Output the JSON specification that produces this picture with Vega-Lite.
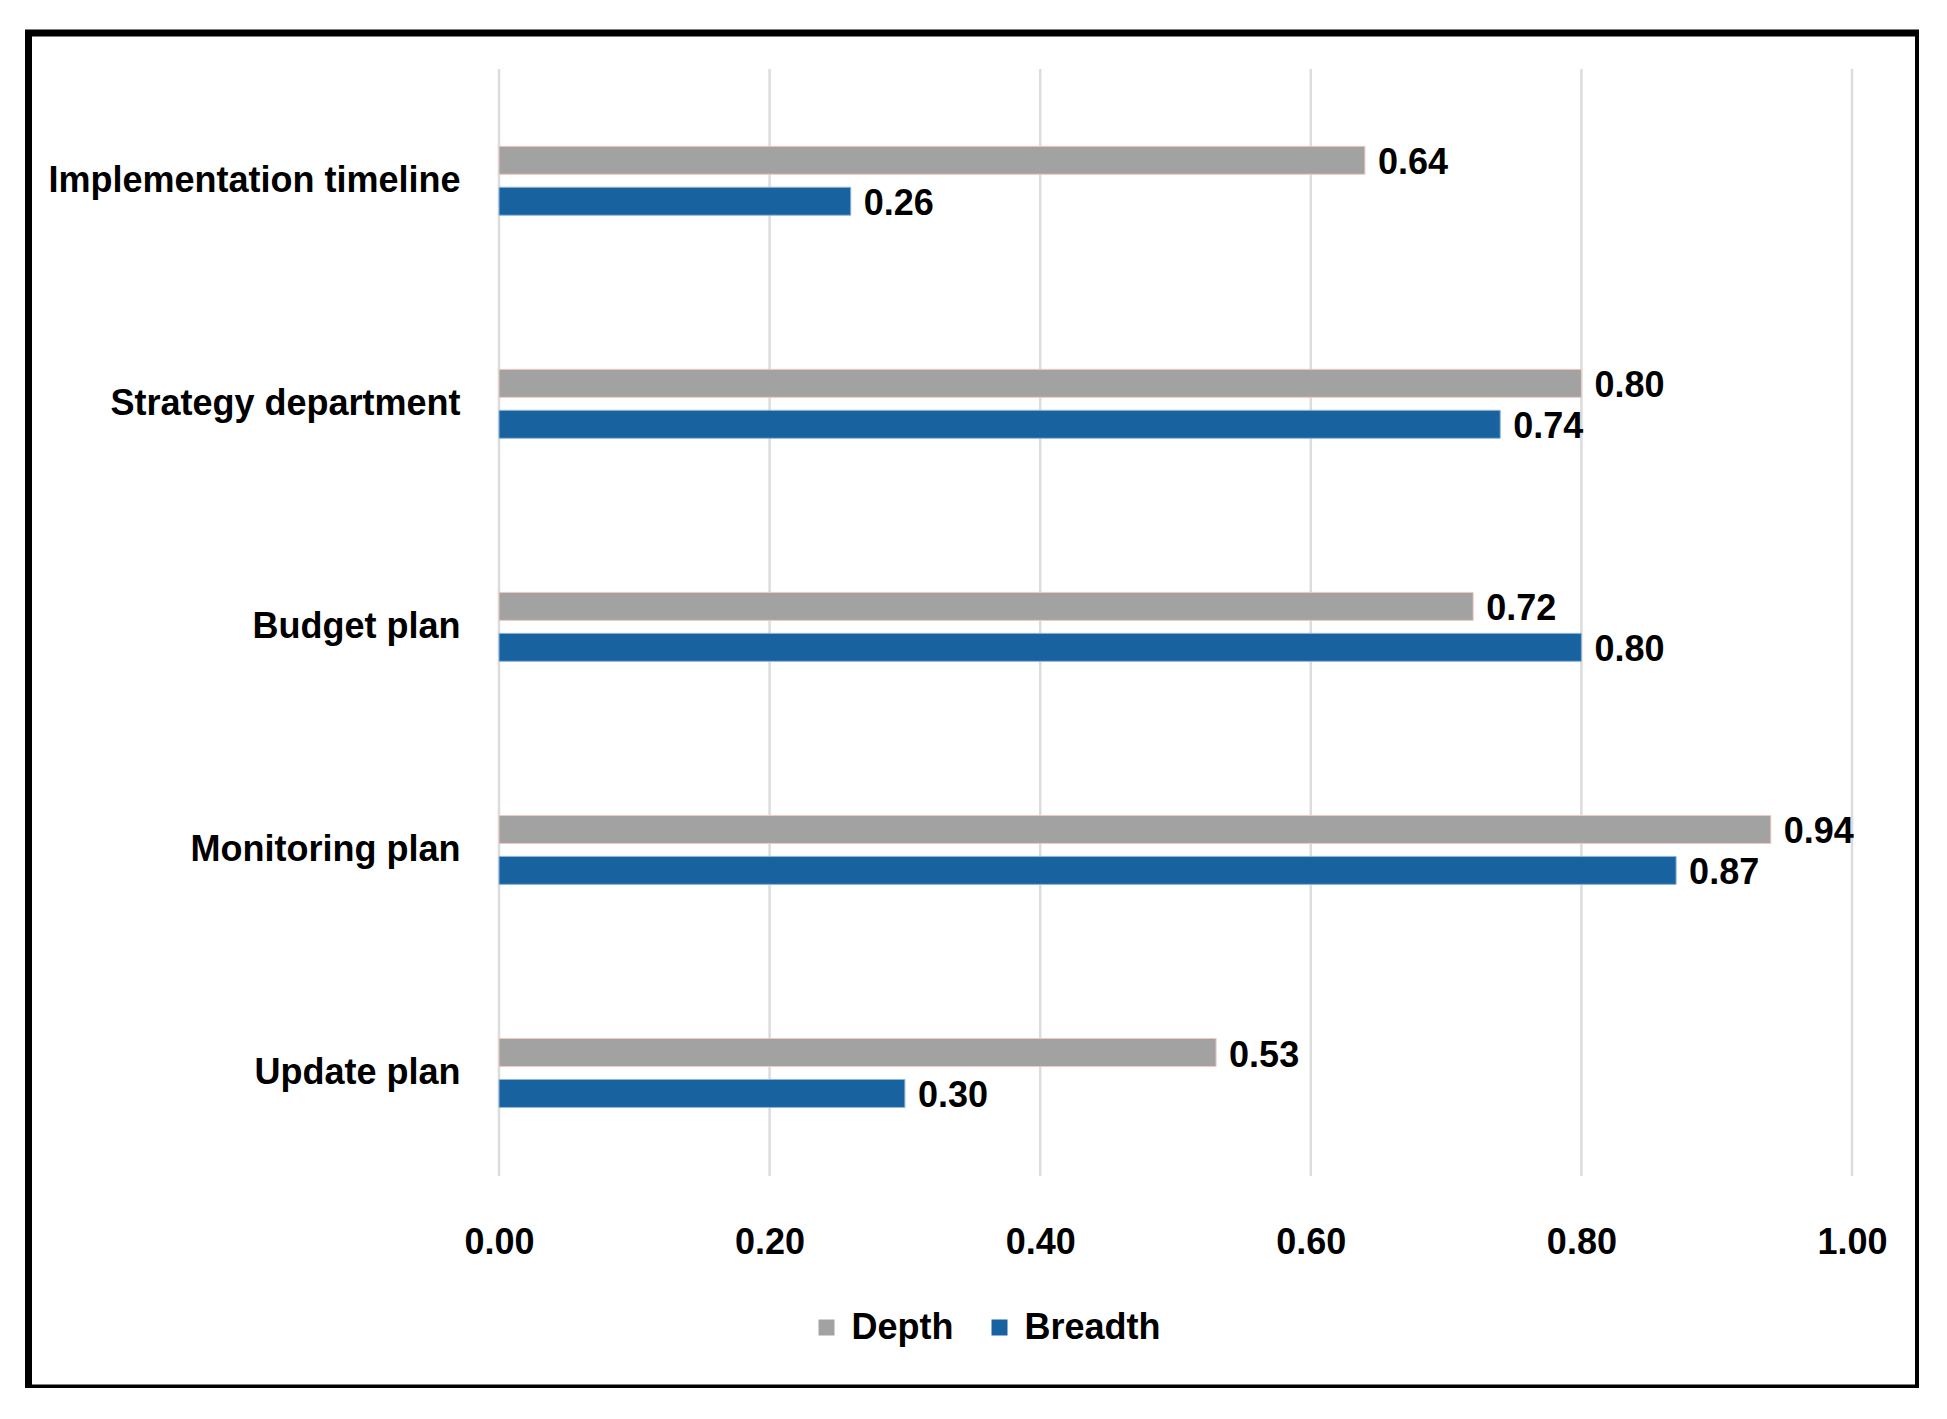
{
  "$schema": "https://vega.github.io/schema/vega-lite/v6.json",
  "width": 1890,
  "height": 1355,
  "autosize": {"type": "none"},
  "padding": {"left": 28.5, "top": 33, "right": 0, "bottom": 0},
  "background": "white",
  "config": {
    "view": {"stroke": "black", "strokeWidth": 7},
    "axis": {"labelFont": "Liberation Sans, Arial, sans-serif", "labelFontWeight": "bold", "labelColor": "black"},
    "legend": {"labelFont": "Liberation Sans, Arial, sans-serif", "labelFontWeight": "bold", "labelColor": "black"}
  },
  "data": {
    "values": [
      {"category": "Implementation timeline", "series": "Depth", "value": 0.64},
      {"category": "Implementation timeline", "series": "Breadth", "value": 0.26},
      {"category": "Strategy department", "series": "Depth", "value": 0.80},
      {"category": "Strategy department", "series": "Breadth", "value": 0.74},
      {"category": "Budget plan", "series": "Depth", "value": 0.72},
      {"category": "Budget plan", "series": "Breadth", "value": 0.80},
      {"category": "Monitoring plan", "series": "Depth", "value": 0.94},
      {"category": "Monitoring plan", "series": "Breadth", "value": 0.87},
      {"category": "Update plan", "series": "Depth", "value": 0.53},
      {"category": "Update plan", "series": "Breadth", "value": 0.30}
    ]
  },
  "layer": [
    {
      "data": {"values": [{"v": 0}, {"v": 0.2}, {"v": 0.4}, {"v": 0.6}, {"v": 0.8}, {"v": 1.0}]},
      "mark": {"type": "rule", "color": "#dcdcdc", "strokeWidth": 2.5},
      "encoding": {
        "x": {"field": "v", "type": "quantitative"},
        "y": {"datum": "Implementation timeline", "bandPosition": -1.123},
        "y2": {"datum": "Update plan", "bandPosition": 1.993}
      }
    },
    {
      "mark": {"type": "bar"},
      "encoding": {
        "x": {
          "field": "value", "type": "quantitative",
          "scale": {"domain": [0, 1], "range": [470.5, 1823.5], "nice": false, "zero": true},
          "axis": {"values": [0, 0.2, 0.4, 0.6, 0.8, 1.0], "format": ".2f", "grid": false, "domain": false, "ticks": false, "labelPadding": 0, "labelBaseline": "middle", "labelFontSize": 36, "offset": -146, "title": null, "labelFlush": false}
        },
        "y": {
          "field": "category", "type": "nominal",
          "scale": {"domain": ["Implementation timeline", "Strategy department", "Budget plan", "Monitoring plan", "Update plan"], "range": [36, 1143], "paddingInner": 0.691, "paddingOuter": 0.327, "align": 0.53},
          "axis": {"domain": false, "ticks": false, "grid": false, "labelPadding": 0, "labelFontSize": 36, "labelLimit": 1000, "offset": -431.5, "title": null, "labelAlign": "right"}
        },
        "yOffset": {
          "field": "series", "type": "nominal",
          "scale": {"domain": ["Depth", "Breadth"], "paddingInner": 0.317, "paddingOuter": 0}
        },
        "color": {
          "field": "series", "type": "nominal",
          "scale": {"domain": ["Depth", "Breadth"], "range": ["#a2a2a2", "#1862a0"]},
          "legend": {"orient": "none", "legendX": 780, "legendY": 1276.5, "direction": "horizontal", "title": null, "symbolType": "square", "symbolSize": 256, "symbolStrokeWidth": 0, "labelFontSize": 36, "labelOffset": 7, "columnPadding": 28, "labelLimit": 500}
        },
        "stroke": {
          "field": "series", "type": "nominal",
          "scale": {"domain": ["Depth", "Breadth"], "range": ["#f0c8c2", "#8fb6da"]},
          "legend": null
        }
      }
    },
    {
      "mark": {"type": "text", "align": "left", "baseline": "middle", "dx": 13, "dy": 3, "fontSize": 36, "fontWeight": "bold", "font": "Liberation Sans, Arial, sans-serif", "color": "black"},
      "encoding": {
        "x": {"field": "value", "type": "quantitative"},
        "y": {"field": "category", "type": "nominal"},
        "yOffset": {"field": "series", "type": "nominal"},
        "text": {"field": "value", "type": "quantitative", "format": ".2f"}
      }
    }
  ]
}
